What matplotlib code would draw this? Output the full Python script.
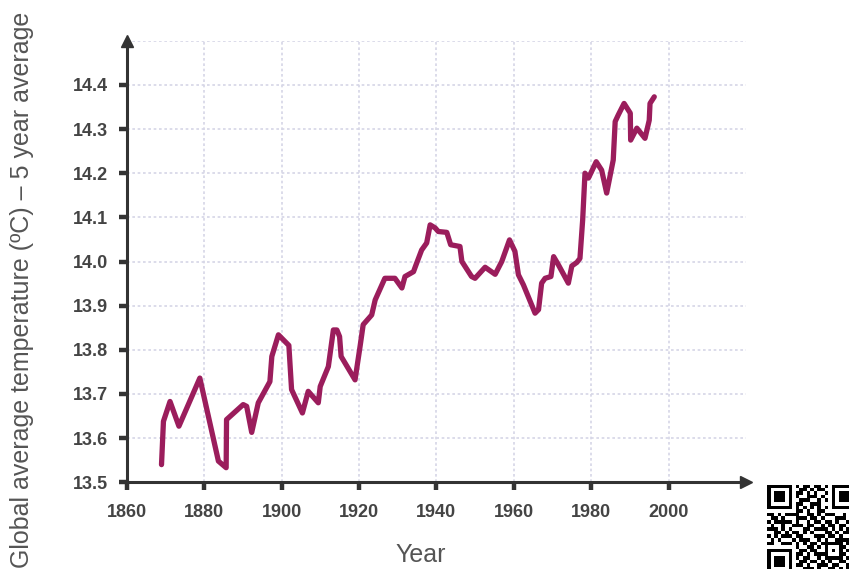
import numpy as np
import matplotlib
matplotlib.use("Agg")
import matplotlib.pyplot as plt

plt.rcParams['font.family'] = ['Liberation Sans', 'DejaVu Sans']

# 5-year running mean of global temperature
years = [1869.0, 1869.5, 1871.2, 1873.5, 1878.9, 1883.7, 1885.7, 1885.8, 1890.1, 1891.0,
         1892.3, 1894.0, 1897.0, 1897.5, 1899.2, 1901.9, 1902.6, 1905.4, 1906.9, 1909.5,
         1910.0, 1912.1, 1913.4, 1914.3, 1915.0, 1915.4, 1919.0, 1920.3, 1921.1, 1923.3,
         1924.2, 1926.7, 1929.3, 1931.1, 1931.9, 1934.1, 1934.9, 1936.2, 1937.5, 1938.4,
         1939.7, 1940.5, 1942.7, 1943.7, 1946.1, 1946.6, 1949.1, 1950.0, 1952.6, 1955.2,
         1956.9, 1958.9, 1960.3, 1961.2, 1962.5, 1965.5, 1966.4, 1967.2, 1968.1, 1969.6,
         1970.3, 1971.5, 1974.1, 1975.0, 1976.3, 1977.1, 1977.8, 1978.4, 1979.3, 1981.3,
         1982.7, 1984.0, 1985.7, 1986.2, 1987.0, 1988.5, 1990.1, 1990.2, 1991.8, 1993.9,
         1995.0, 1995.2, 1996.3]
temps = [13.540, 13.638, 13.683, 13.627, 13.736, 13.548, 13.533, 13.642, 13.676, 13.672,
         13.613, 13.680, 13.728, 13.785, 13.834, 13.810, 13.710, 13.657, 13.706, 13.680,
         13.717, 13.762, 13.845, 13.845, 13.830, 13.785, 13.732, 13.808, 13.857, 13.879,
         13.913, 13.962, 13.962, 13.940, 13.966, 13.977, 13.996, 14.026, 14.042, 14.083,
         14.076, 14.068, 14.066, 14.038, 14.034, 14.000, 13.966, 13.962, 13.987, 13.971,
         14.000, 14.049, 14.023, 13.970, 13.947, 13.883, 13.891, 13.951, 13.962, 13.966,
         14.011, 13.993, 13.951, 13.990, 13.998, 14.007, 14.094, 14.200, 14.189, 14.226,
         14.207, 14.155, 14.230, 14.317, 14.332, 14.358, 14.336, 14.275, 14.302, 14.279,
         14.320, 14.358, 14.373]

x_ticks = [1860, 1880, 1900, 1920, 1940, 1960, 1980, 2000]
y_ticks = [13.5, 13.6, 13.7, 13.8, 13.9, 14.0, 14.1, 14.2, 14.3, 14.4]

# hand-typed module rows for the corner code; finders are stamped on top
qr_rows = [
    "0000000010110110100000000",
    "0000000001101011000000000",
    "0000000011010100100000000",
    "0000000010011101000000000",
    "0000000001110010100000000",
    "0000000011001110000000000",
    "0000000000000000000000000",
    "0000000011010011000000000",
    "1101011110011010111001011",
    "0110100011101101000111010",
    "1011111010010110110100111",
    "0100100111011001011011001",
    "1110101000110111101010110",
    "0011010110101000110101101",
    "1010111011000111011010011",
    "0101001101110010100111100",
    "1100110010101101111110101",
    "0000000010011010100011010",
    "0000000001101100101010111",
    "0000000011010111100011001",
    "0000000010110010111110110",
    "0000000001101101010011011",
    "0000000011010011101100100",
    "0000000000111010011010111",
    "0000000010100101110101101",
]

line_color = '#9b1d5c'
axis_color = '#333333'
grid_color = '#d6d6e6'

fig = plt.figure(figsize=(8.49, 5.69), dpi=100)
ax = fig.add_axes([0.1492, 0.1524, 0.7295, 0.776])

ax.set_xlim(1860, 2020)
ax.set_ylim(13.5, 14.5)

# dotted grid: horizontal up to the arrow ends, vertical for the labelled years
grid_y = y_ticks[1:] + [14.5]
ax.hlines(grid_y, 1860, 2020, colors=grid_color, linewidth=1.2,
          linestyles=(0, (1.6, 1.6)), zorder=1)
ax.vlines(x_ticks[1:], 13.5, 14.5, colors=grid_color, linewidth=1.2,
          linestyles=(0, (1.6, 1.6)), zorder=1)

ax.plot(years, temps, color=line_color, linewidth=3.8,
        solid_joinstyle='round', solid_capstyle='round', zorder=3)

for side in ['top', 'right']:
    ax.spines[side].set_visible(False)
for side in ['left', 'bottom']:
    ax.spines[side].set_color(axis_color)
    ax.spines[side].set_linewidth(2.2)

# arrow heads at the axis ends
ax.plot([1860], [14.5], marker='^', markersize=8, color=axis_color,
        clip_on=False, zorder=4)
ax.plot([2020], [13.5], marker='>', markersize=8, color=axis_color,
        clip_on=False, zorder=4)

ax.set_xticks(x_ticks)
ax.set_yticks(y_ticks)
ax.set_yticklabels([f"{v:.1f}" for v in y_ticks])
ax.tick_params(axis='both', direction='out', length=5.8, width=3.2,
               color=axis_color, labelsize=13, labelcolor='#444444')
ax.tick_params(axis='x', pad=9.5)
ax.tick_params(axis='y', pad=7.5)
for lbl in ax.get_xticklabels() + ax.get_yticklabels():
    lbl.set_fontweight('bold')

fig.text(421 / 849, 1 - 555 / 569, "Year", fontsize=18, color='#555555',
         ha='center', va='center')
fig.text(22 / 849, 1 - 290 / 569, "Global average temperature (ºC) – 5 year average",
         fontsize=18, color='#555555', rotation=90, ha='center', va='center')

# small code block in the lower right corner
n = 25
qr = np.array([[int(c) for c in r.ljust(n, '0')[:n]] for r in qr_rows])


def stamp_finder(grid, r0, c0):
    for i in range(7):
        for j in range(7):
            edge = i in (0, 6) or j in (0, 6)
            core = 2 <= i <= 4 and 2 <= j <= 4
            grid[r0 + i, c0 + j] = 1 if (edge or core) else 0


stamp_finder(qr, 0, 0)
stamp_finder(qr, 0, n - 7)
stamp_finder(qr, n - 7, 0)
for k in range(8, n - 8):
    qr[6, k] = 1 - k % 2
    qr[k, 6] = 1 - k % 2
for i in range(5):
    for j in range(5):
        edge = i in (0, 4) or j in (0, 4)
        qr[16 + i, 16 + j] = 1 if (edge or (i == 2 and j == 2)) else 0

module = 3.57
qax = fig.add_axes([766.5 / 849, 1 - (484.5 + n * module) / 569,
                    n * module / 849, n * module / 569])
qax.imshow(qr, cmap='Greys', vmin=0, vmax=1, interpolation='nearest')
qax.set_axis_off()

fig.savefig('out.png', dpi=100)
